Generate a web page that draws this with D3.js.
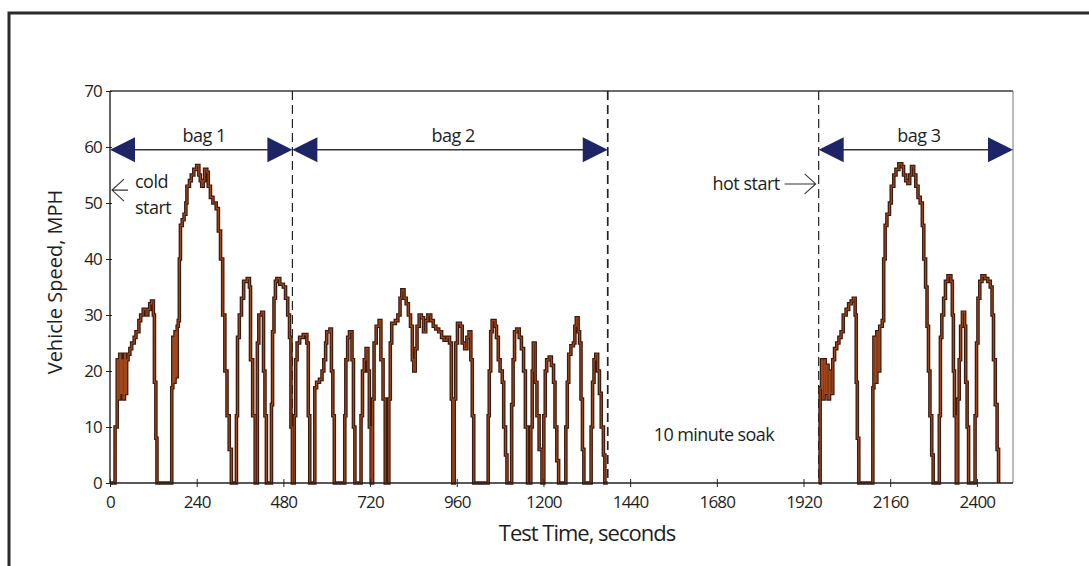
<!DOCTYPE html>
<html lang="en">
  <head>
    <meta charset="utf-8">
    <title>FTP-75 drive cycle</title>
    <script src="https://cdn.jsdelivr.net/npm/d3@7"></script>
    <style>
      body { margin: 0; background: #fff; }
      svg text { font-family: "Open Sans", "DejaVu Sans", sans-serif; fill: #1e1e1e; }
    </style>
  </head>
  <body>
  <svg id="chart" width="1089" height="566"></svg>
  <script>
      // speed trace, cold start part (bag 1 + bag 2), seconds / mph
      var coldTime = [0,14,20,23,27,30,33,36,40,43,46,50,55,60,67,72,80,85,92,100,105,110,115,120,123,127,130,
        171,174,177,180,183,186,189,192,195,200,205,210,213,220,225,232,240,246,250,254,258,262,268,272,278,285,294,300,306,312,318,324,330,336,
        350,353,358,364,370,380,386,389,395,402,408,412,420,425,429,433,
        447,450,454,458,462,470,480,486,492,497,501,505,
        510,514,518,525,535,545,549,553,567,572,580,587,592,597,600,609,613,617,621,
        650,653,658,663,670,674,678,695,699,704,709,714,718,723,727,731,737,745,750,756,762,
        772,776,780,790,797,803,808,814,820,826,832,837,841,845,850,856,862,868,874,880,888,895,902,910,918,925,933,940,945,949,
        953,957,962,970,975,982,988,994,999,1003,1007,
        1047,1050,1054,1058,1066,1070,1075,1080,1086,1090,1095,1099,
        1112,1116,1120,1126,1133,1139,1145,1150,1156,
        1165,1169,1172,1177,1182,1188,1196,
        1201,1205,1209,1216,1222,1228,1232,1237,1242,
        1262,1266,1270,1276,1283,1287,1291,1296,1300,1304,1308,1312,
        1332,1336,1340,1345,1350,1355,1360,1366,1370,1378];
      var coldSpeed = [0,10,22,15,23,16,22,15,23,16,22,23,24,25,26,27,29,30,31,30,31,32,32.5,30,18,8,0,
        17,26,18,27,19,28,29,40,46,47,48,50,53,54,55,56,56.7,55,54,53,54,56,55.5,53,51,50,49,45,40,30,20,12,6,0,
        12,26,30,33,36,36.5,35,22,12,0,25,30,30.5,20,12,0,
        14,27,33,36,36.5,35.5,35,33,30,26,10,0,
        12,22,25,26,26.5,25,12,0,17,18,18.5,20,22,25,27,27.5,20,12,0,
        12,22,26,27,22,10,0,12,20,22,24,20,10,0,15,25,28,29,22,15,0,
        15,25,28.5,29,30,33,34.5,33,32,30,28,22,20,24,28,30,29.5,27,29,30,29,28,27.5,27,26,25.5,26,25,15,0,
        15,25,28.5,28,25,24,26,27,22,12,0,
        12,20,27,29,28,26,22,20,18,10,5,0,
        14,22,27,27.5,26,24,20,10,0,
        10,20,25,18,12,6,0,
        12,20,22,22.5,21,18,10,4,0,
        10,18,23,24.5,25,28,29.5,27,25,15,6,0,
        10,18,22,23,20,16,10,5,0,0];

      // speed trace, hot start part (bag 3)
      var hotTime = [1962,1966,1970,1973,1977,1980,1984,1988,1992,1996,2001,2006,2012,2018,2024,2030,2038,2045,2052,2058,2063,2066,2069,2073,
        2112,2115,2119,2123,2127,2131,2138,2142,2146,2151,2158,2163,2170,2176,2184,2192,2197,2203,2209,2214,2219,2225,2231,2237,2243,2249,2253,2258,2262,2266,2270,2275,2279,
        2296,2299,2303,2308,2313,2320,2328,2332,2335,2338,2343,2347,2351,2355,2360,2366,2369,2373,2377,
        2395,2399,2403,2408,2414,2422,2430,2437,2442,2446,2451,2456,2460];
      var hotSpeed = [0,17,22,15,22,16,21,15,20,16,22,24,25,26,27,30,31,32,32.5,33,30,18,8,0,
        17,26,18,27,20,28,29,40,46,48,50,53,55,56,57,56.5,55,54,53.5,55,56.5,55,53,51,50,46,40,35,28,20,12,5,0,
        12,26,30,33,36,37,36,30,20,12,0,15,22,28,30.5,28,18,10,0,
        12,25,33,36,37,36.5,36,35,30,22,14,6,0];

      // sample bags
      var bagNames = ["bag 1", "bag 2", "bag 3"];
      var bagStart = [0, 505, 1962];
      var bagEnd = [505, 1378, 2500];
      var bagLevel = 59.5;
      var dividers = [505, 1378, 1962];

      var xTicks = [0, 240, 480, 720, 960, 1200, 1440, 1680, 1920, 2160, 2400];
      var yTicks = [0, 10, 20, 30, 40, 50, 60, 70];

      var svg = d3.select("#chart");
      var x = d3.scaleLinear().domain([0, 2500]).range([110, 1013]);
      var y = d3.scaleLinear().domain([0, 70]).range([483, 91]);

      // outer frame (top + left edge of the scanned page)
      svg.append("path")
          .attr("d", "M9,566 L9,13 L1089,13")
          .attr("fill", "none")
          .attr("stroke", "#2b2b2b")
          .attr("stroke-width", 3);

      // plot box top and right
      svg.append("line").attr("x1", x(0)).attr("x2", x(2500)).attr("y1", y(70)).attr("y2", y(70))
          .attr("stroke", "#3a3a3a").attr("stroke-width", 1.5);
      svg.append("line").attr("x1", x(2500)).attr("x2", x(2500)).attr("y1", y(70)).attr("y2", y(0))
          .attr("stroke", "#777").attr("stroke-width", 1);

      // bag dividers
      svg.selectAll(".divider")
          .data(dividers)
          .enter()
          .append("line")
          .attr("class", "divider")
          .attr("x1", function(d) { return x(d); })
          .attr("x2", function(d) { return x(d); })
          .attr("y1", y(70))
          .attr("y2", y(0))
          .attr("stroke", "#222")
          .attr("stroke-width", function(d, i) { return i == 1 ? 1.7 : 1.2; })
          .attr("stroke-dasharray", "9,5");

      // speed trace
      var line = d3.line()
          .x(function(d) { return x(d[0]); })
          .y(function(d) { return y(d[1]); })
          .curve(d3.curveStepAfter);

      var cold = coldTime.map(function(t, i) { return [t, coldSpeed[i]]; });
      var hot = hotTime.map(function(t, i) { return [t, hotSpeed[i]]; });

      [cold, hot].forEach(function(seg) {
        svg.append("path").attr("d", line(seg))
            .attr("fill", "none").attr("stroke", "#3b1a0f").attr("stroke-width", 3.6);
        svg.append("path").attr("d", line(seg))
            .attr("fill", "none").attr("stroke", "#b4501f").attr("stroke-width", 1.2).attr("opacity", 0.85);
      });

      // axes
      var xAxis = svg.append("g")
          .attr("transform", "translate(0," + y(0) + ")")
          .call(d3.axisBottom(x).tickValues(xTicks).tickFormat(d3.format("d")).tickSize(4).tickPadding(9));
      xAxis.select(".domain").attr("d", "M" + x(0) + ",0H" + x(2500)).attr("stroke", "#222").attr("stroke-width", 1.6);
      xAxis.selectAll(".tick line").attr("y1", -4).attr("y2", 4).attr("stroke", "#222");
      xAxis.selectAll(".tick text").attr("font-size", 17).attr("letter-spacing", -0.8).attr("fill", "#1e1e1e")
          .attr("font-family", "Open Sans, sans-serif");

      var yAxis = svg.append("g")
          .attr("transform", "translate(" + x(0) + ",0)")
          .call(d3.axisLeft(y).tickValues(yTicks).tickSize(4).tickPadding(4));
      yAxis.select(".domain").attr("d", "M0," + y(0) + "V" + y(70)).attr("stroke", "#222").attr("stroke-width", 1.4);
      yAxis.selectAll(".tick line").attr("x1", -4).attr("x2", 2).attr("stroke", "#222");
      yAxis.selectAll(".tick text").attr("font-size", 17).attr("letter-spacing", -0.8).attr("fill", "#1e1e1e")
          .attr("font-family", "Open Sans, sans-serif");

      // axis titles
      svg.append("text")
          .attr("x", 587).attr("y", 541)
          .attr("text-anchor", "middle")
          .attr("font-size", 22).attr("letter-spacing", -1)
          .text("Test Time, seconds");
      svg.append("text")
          .attr("transform", "translate(62,282) rotate(-90)")
          .attr("text-anchor", "middle")
          .attr("font-size", 20).attr("fill", "#333")
          .text("Vehicle Speed, MPH");

      // bag arrows
      var bags = svg.selectAll(".bag")
          .data(bagNames)
          .enter()
          .append("g")
          .attr("class", "bag");
      bags.append("line")
          .attr("x1", function(d, i) { return x(bagStart[i]) + 4; })
          .attr("x2", function(d, i) { return x(bagEnd[i]) - 4; })
          .attr("y1", y(bagLevel)).attr("y2", y(bagLevel))
          .attr("stroke", "#333").attr("stroke-width", 1.5);
      bags.append("path")
          .attr("d", function(d, i) {
            var a = x(bagStart[i]), b = y(bagLevel);
            return "M" + a + "," + b + "L" + (a + 25) + "," + (b - 12.5) + "L" + (a + 25) + "," + (b + 12.5) + "Z";
          })
          .attr("fill", "#1d2566");
      bags.append("path")
          .attr("d", function(d, i) {
            var a = x(bagEnd[i]), b = y(bagLevel);
            return "M" + a + "," + b + "L" + (a - 25) + "," + (b - 12.5) + "L" + (a - 25) + "," + (b + 12.5) + "Z";
          })
          .attr("fill", "#1d2566");
      bags.append("text")
          .attr("x", function(d, i) { return (x(bagStart[i]) + x(bagEnd[i])) / 2 + 3; })
          .attr("y", y(bagLevel) - 8)
          .attr("text-anchor", "middle")
          .attr("font-size", 18).attr("letter-spacing", -0.5)
          .text(function(d) { return d; });

      // cold start note
      var cy = y(52.3);
      svg.append("path")
          .attr("d", "M" + (x(0) + 2) + "," + cy + "H" + (x(0) + 18) +
                     "M" + (x(0) + 14) + "," + (cy - 11) + "L" + (x(0) + 2) + "," + cy + "L" + (x(0) + 14) + "," + (cy + 11))
          .attr("fill", "none").attr("stroke", "#333").attr("stroke-width", 1.1);
      svg.append("text").attr("x", x(0) + 25).attr("y", cy - 2).attr("font-size", 18).attr("letter-spacing", -0.5).text("cold");
      svg.append("text").attr("x", x(0) + 25).attr("y", cy + 24).attr("font-size", 18).attr("letter-spacing", -0.5).text("start");

      // hot start note
      var hy = y(53.4);
      var hx = x(dividers[2]);
      svg.append("path")
          .attr("d", "M" + (hx - 34) + "," + hy + "H" + (hx - 3) +
                     "M" + (hx - 14) + "," + (hy - 10) + "L" + (hx - 3) + "," + hy + "L" + (hx - 14) + "," + (hy + 10))
          .attr("fill", "none").attr("stroke", "#333").attr("stroke-width", 1.1);
      svg.append("text").attr("x", hx - 39).attr("y", hy + 6).attr("text-anchor", "end")
          .attr("font-size", 18).attr("letter-spacing", -0.5).text("hot start");

      svg.append("text")
          .attr("x", x(1672)).attr("y", y(7.5))
          .attr("text-anchor", "middle")
          .attr("font-size", 18).attr("letter-spacing", -0.6)
          .text("10 minute soak");
  </script>
  </body>
</html>
